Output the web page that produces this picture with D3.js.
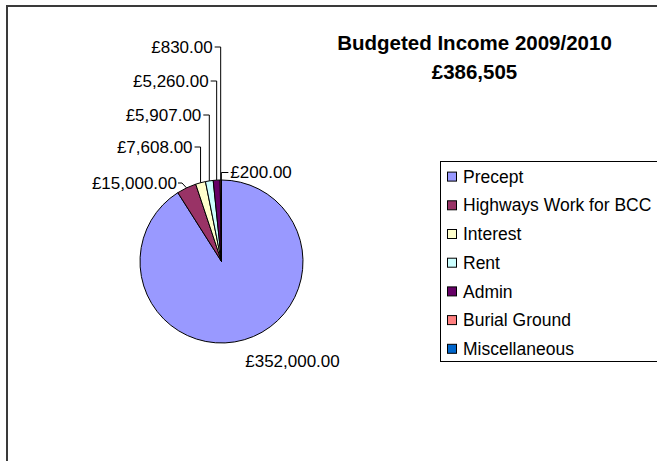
<!DOCTYPE html>
<html>
<head>
<meta charset="utf-8">
<script src="https://cdnjs.cloudflare.com/ajax/libs/d3/7.8.5/d3.min.js"></script>
<style>
  html, body { margin: 0; padding: 0; background: #fff; }
  svg { display: block; font-family: "Liberation Sans", Arial, sans-serif; }
</style>
</head>
<body>
<svg id="chart" width="657" height="461"></svg>
<script>
  // chart data
  const categories = ['Precept', 'Highways Work for BCC', 'Interest', 'Rent', 'Admin', 'Burial Ground', 'Miscellaneous'];
  const values = [352000, 15000, 7608, 5907, 5260, 830, 200];
  const colors = ['#9999FF', '#993366', '#FFFFCC', '#CCFFFF', '#660066', '#FF8080', '#0066CC'];
  const titleLines = ['Budgeted Income 2009/2010', '£386,505'];

  // where each data label sits (layout only)
  const labelLayout = [
    { kind: 'free', x: 292.5, y: 361 },
    { kind: 'diag', x: 177, y: 183 },
    { kind: 'vert', y: 147 },
    { kind: 'vert', y: 115 },
    { kind: 'vert', y: 81 },
    { kind: 'vert', y: 47 },
    { kind: 'right', y: 172.5 }
  ];

  const svg = d3.select('#chart');
  const width = +svg.attr('width');
  const height = +svg.attr('height');

  const cx = 221.5;
  const cy = 261.5;
  const radius = 81.5;
  const fontSize = 17;
  const money = v => '£' + d3.format(',.2f')(v);

  // outer chart frame (runs off the right and bottom edge)
  svg.append('rect')
    .attr('x', 7)
    .attr('y', 6)
    .attr('width', width + 40)
    .attr('height', height + 40)
    .attr('fill', 'none')
    .attr('stroke', '#3a3a3a')
    .attr('stroke-width', 2);

  const pie = d3.pie().sort(null).value(d => d);
  const arcs = pie(values);
  const arc = d3.arc().innerRadius(0).outerRadius(radius);

  const pieG = svg.append('g').attr('transform', `translate(${cx}, ${cy})`);

  pieG.selectAll('path.slice')
    .data(arcs)
    .join('path')
    .attr('class', 'slice')
    .attr('d', arc)
    .attr('fill', (d, i) => colors[i])
    .attr('stroke', '#000')
    .attr('stroke-width', 1)
    .attr('stroke-linejoin', 'round');

  // data labels with leader lines
  const labels = svg.append('g').attr('font-size', fontSize).attr('fill', '#000');

  arcs.forEach((d, i) => {
    const lay = labelLayout[i];
    const mid = (d.startAngle + d.endAngle) / 2;
    const px = cx + radius * Math.sin(mid);
    const py = cy - radius * Math.cos(mid);
    const text = money(values[i]);

    if (lay.kind === 'free') {
      labels.append('text')
        .attr('x', lay.x)
        .attr('y', lay.y)
        .attr('dy', '0.35em')
        .attr('text-anchor', 'middle')
        .text(text);
      return;
    }

    let path;
    let tx;
    let anchor = 'end';
    if (lay.kind === 'diag') {
      tx = lay.x;
      path = `M${px},${py}L${tx + 5},${lay.y}H${tx + 1}`;
    } else if (lay.kind === 'vert') {
      tx = px - 8;
      path = `M${px},${py}V${lay.y}H${px - 6}`;
    } else {
      tx = px + 9;
      anchor = 'start';
      path = `M${px},${py}V${lay.y}H${px + 7}`;
    }

    labels.append('path')
      .attr('d', path)
      .attr('fill', 'none')
      .attr('stroke', '#000')
      .attr('stroke-width', 1);

    labels.append('text')
      .attr('x', tx)
      .attr('y', lay.y)
      .attr('dy', '0.35em')
      .attr('text-anchor', anchor)
      .text(text);
  });

  // title
  svg.append('g')
    .selectAll('text')
    .data(titleLines)
    .join('text')
    .attr('x', 474.5)
    .attr('y', (d, i) => 43 + i * 28.5)
    .attr('dy', '0.35em')
    .attr('text-anchor', 'middle')
    .attr('font-size', 20.5)
    .attr('font-weight', 'bold')
    .text(d => d);

  // legend
  const legend = svg.append('g').attr('transform', 'translate(440, 161)');

  legend.append('rect')
    .attr('x', 0.5)
    .attr('y', 0.5)
    .attr('width', 260)
    .attr('height', 200)
    .attr('fill', '#fff')
    .attr('stroke', '#000')
    .attr('stroke-width', 1);

  const rowY = d3.scalePoint()
    .domain(categories)
    .range([15.6, 15.6 + 28.7 * (categories.length - 1)]);

  const rows = legend.selectAll('g.item')
    .data(categories)
    .join('g')
    .attr('class', 'item')
    .attr('transform', d => `translate(0, ${rowY(d)})`);

  rows.append('rect')
    .attr('x', 7.5)
    .attr('y', -4.5)
    .attr('width', 9)
    .attr('height', 9)
    .attr('fill', (d, i) => colors[i])
    .attr('stroke', '#000')
    .attr('stroke-width', 1);

  rows.append('text')
    .attr('x', 23)
    .attr('y', 0)
    .attr('dy', '0.35em')
    .attr('font-size', 17.5)
    .text(d => d);
</script>
</body>
</html>
